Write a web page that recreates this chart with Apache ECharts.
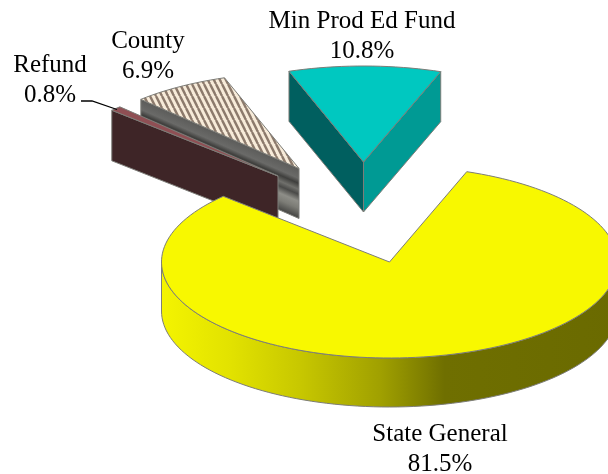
<!DOCTYPE html>
<html><head><meta charset="utf-8">
<style>html,body{margin:0;padding:0;background:#fff}#c{width:608px;height:474px}</style>
<script src="https://cdn.jsdelivr.net/npm/echarts@6/dist/echarts.min.js"></script>
</head><body><div id="c"></div>
<script>
const categories = ['State General', 'Refund', 'County', 'Min Prod Ed Fund'];
const shares = [81.5, 0.8, 6.9, 10.8];

const START_ANGLE = 19.8, RX = 228, RY = 96;
const view = {
  'State General': {cx: 389.5, cy: 262, depth: 49, z: 4, lx: 440, ly: 449},
  'Refund': {cx: 278, cy: 176, depth: 50.5, z: 2, lx: 50, ly: 80},
  'County': {cx: 299, cy: 168.5, depth: 50, z: 1, lx: 148, ly: 56},
  'Min Prod Ed Fund': {cx: 363.5, cy: 162, depth: 50, z: 3, lx: 362, ly: 36}
};
const EDGE = '#7d7d78';

function stripes() {
  const w = 6, h = 12, c = document.createElement('canvas');
  c.width = w; c.height = h;
  const g = c.getContext('2d');
  g.fillStyle = '#f7ebd9'; g.fillRect(0, 0, w, h);
  g.strokeStyle = '#8c7a6c'; g.lineWidth = 2.4;
  for (let i = -w; i <= 2 * w; i += w) { g.beginPath(); g.moveTo(i, 0); g.lineTo(i + w, h); g.stroke(); }
  return c;
}
const linear = (x, y, x2, y2, stops) => ({type: 'linear', x, y, x2, y2, global: true,
  colorStops: stops.map(([offset, color]) => ({offset, color}))});

function sliceAngles(i) {
  let a = START_ANGLE;
  for (let k = 0; k < i; k++) a += shares[k] * 3.6;
  return [a, a + shares[i] * 3.6];
}
function arc(v, a0, a1, dy) {
  const pts = [], n = Math.max(2, Math.ceil(Math.abs(a1 - a0) / 2));
  for (let k = 0; k <= n; k++) {
    const t = (a0 + (a1 - a0) * k / n) * Math.PI / 180;
    pts.push([v.cx + RX * Math.sin(t), v.cy - RY * Math.cos(t) + dy]);
  }
  return pts;
}
const poly = (points, fill, z2, lw) => ({type: 'polygon', z2, shape: {points},
  style: {fill, stroke: EDGE, lineWidth: lw === undefined ? 1 : lw, lineJoin: 'round'}});

function renderSlice(params, api) {
  const i = api.value(0), share = api.value(1), name = categories[i], v = view[name];
  const [a0, a1] = sliceAngles(i), base = v.z * 10, kids = [], D = v.depth;
  const apex = [v.cx, v.cy], P0 = arc(v, a0, a0, 0)[0], P1 = arc(v, a1, a1, 0)[0];
  const wall = (P, fill, z) => poly([P, apex, [apex[0], apex[1] + D], [P[0], P[1] + D]], fill, base + z);

  if (name === 'State General') {
    kids.push(poly(arc(v, 90, 270, 0).concat(arc(v, 270, 90, D)),
      linear(162, 0, 618, 0, [[0, '#f4f400'], [0.15, '#e2e200'], [0.3, '#c8c800'], [0.48, '#a0a000'], [0.62, '#6f6f00'], [1, '#6a6a00']]), base));
    kids.push(poly([apex].concat(arc(v, a0, a1, 0)), '#f8f800', base + 1));
  } else if (name === 'Min Prod Ed Fund') {
    kids.push(wall(P0, '#005f5f', 0));
    kids.push(wall(P1, '#009a94', 0));
    kids.push(poly([apex].concat(arc(v, a0, a1, 0)), '#00c8c0', base + 1));
  } else if (name === 'County') {
    const ex = apex[0] - P1[0] * 0 - P0[0], ey = apex[1] - P0[1], len = Math.hypot(ex, ey);
    const nx = -ey / len, ny = ex / len, h = D * ny;
    kids.push(wall(P0, linear(apex[0], apex[1], apex[0] + nx * h, apex[1] + ny * h,
      [[0, '#5c5c5a'], [0.2, '#6a6a68'], [0.3, '#3f3f3d'], [0.42, '#70706c'], [0.52, '#4a4a48'], [0.66, '#8e8e88'], [0.8, '#7c7c76'], [1, '#454543']]), 0));
    kids.push(poly([apex].concat(arc(v, a0, a1, 0)), {image: stripes(), repeat: 'repeat'}, base + 1));
  } else {
    kids.push(wall(P0, '#3e2527', 0));
    kids.push(poly([apex].concat(arc(v, a0, a1, 0)), '#8f4f54', base + 1));
  }
  kids.push({type: 'text', z2: 100, style: {
    text: name + '\n' + share.toFixed(1) + '%', x: v.lx, y: v.ly,
    align: 'center', verticalAlign: 'middle', fill: '#000',
    font: '25px "Liberation Serif"', lineHeight: 30
  }});
  return {type: 'group', children: kids};
}

const chart = echarts.init(document.getElementById('c'), null, {renderer: 'canvas'});
chart.setOption({
  animation: false,
  backgroundColor: '#fff',
  series: [{
    type: 'custom', coordinateSystem: 'none', silent: true, clip: false,
    data: categories.map((c, i) => ({name: c, value: [i, shares[i]]})),
    renderItem: renderSlice
  }],
  graphic: [{type: 'polyline', silent: true, z: 50, shape: {points: [[81, 101], [92, 101], [117, 109.5]]},
    style: {stroke: '#000', lineWidth: 1.3, fill: null}}]
});
</script></body></html>
